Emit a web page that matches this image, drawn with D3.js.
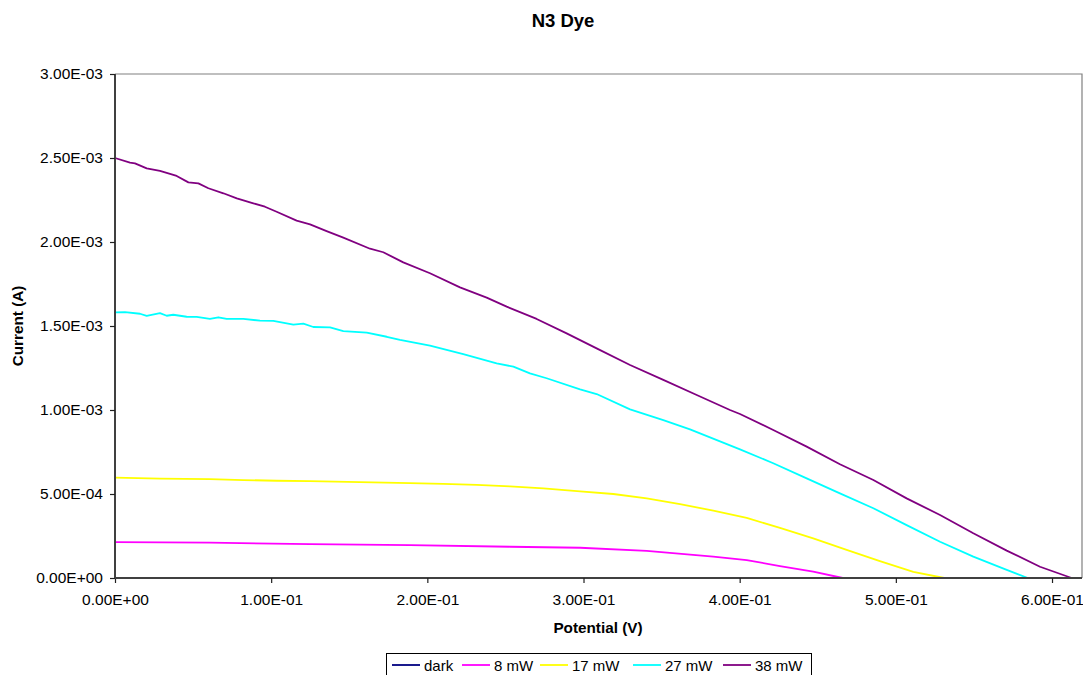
<!DOCTYPE html>
<html>
<head>
<meta charset="utf-8">
<script src="https://cdn.jsdelivr.net/npm/d3@7"></script>
<style>
  html, body { margin: 0; padding: 0; background: #fff; }
  svg { display: block; font-family: "Liberation Sans", Arial, sans-serif; }
</style>
</head>
<body>
<svg id="chart" width="1083" height="675"></svg>
<script>
// I–V curves of an N3 dye cell under different illumination powers.
const seriesNames = ["dark", "8 mW", "17 mW", "27 mW", "38 mW"];
const seriesColors = ["#000080", "#FF00FF", "#FFFF00", "#00FFFF", "#800080"];

// [potential (V), current (A)]
const dark = [[0, 0], [0.05, 0], [0.104, 0]];

const mw8 = [
  [0, 2.14e-4], [0.0608, 2.10e-4], [0.1249, 2.02e-4], [0.1889, 1.96e-4],
  [0.2529, 1.86e-4], [0.2978, 1.80e-4], [0.3405, 1.61e-4], [0.3831, 1.27e-4],
  [0.4045, 1.07e-4], [0.4258, 0.71e-4], [0.4471, 0.38e-4], [0.466, 0]
];

const mw17 = [
  [0, 5.97e-4], [0.0288, 5.92e-4], [0.0608, 5.89e-4], [0.0822, 5.83e-4],
  [0.1035, 5.79e-4], [0.1249, 5.77e-4], [0.1569, 5.71e-4], [0.1889, 5.65e-4],
  [0.2102, 5.60e-4], [0.2316, 5.54e-4], [0.2529, 5.45e-4], [0.2743, 5.34e-4],
  [0.2978, 5.16e-4], [0.3191, 5.00e-4], [0.3405, 4.74e-4], [0.3618, 4.40e-4],
  [0.3831, 4.01e-4], [0.4045, 3.58e-4], [0.4258, 2.98e-4], [0.4471, 2.36e-4],
  [0.4685, 1.68e-4], [0.4898, 1.00e-4], [0.5112, 0.36e-4], [0.531, 0]
];

const mw27 = [
  [0, 1.581e-3], [0.0064, 1.583e-3], [0.016, 1.573e-3], [0.0203, 1.560e-3],
  [0.0288, 1.577e-3], [0.0331, 1.561e-3], [0.0373, 1.567e-3], [0.0459, 1.555e-3],
  [0.0523, 1.554e-3], [0.0608, 1.542e-3], [0.0662, 1.552e-3], [0.0715, 1.542e-3],
  [0.0822, 1.542e-3], [0.0928, 1.532e-3], [0.1014, 1.530e-3], [0.1142, 1.508e-3],
  [0.1206, 1.514e-3], [0.127, 1.494e-3], [0.1377, 1.492e-3], [0.1462, 1.470e-3],
  [0.1612, 1.460e-3], [0.174, 1.436e-3], [0.1825, 1.417e-3], [0.2017, 1.383e-3],
  [0.223, 1.333e-3], [0.2444, 1.278e-3], [0.2551, 1.258e-3], [0.2657, 1.218e-3],
  [0.2764, 1.189e-3], [0.2978, 1.123e-3], [0.3084, 1.095e-3], [0.3298, 1.004e-3],
  [0.3511, 0.940e-3], [0.3682, 0.885e-3], [0.4002, 0.766e-3], [0.4215, 0.683e-3],
  [0.4429, 0.593e-3], [0.4642, 0.504e-3], [0.4856, 0.415e-3], [0.5069, 0.315e-3],
  [0.5283, 0.216e-3], [0.5496, 0.127e-3], [0.571, 0.048e-3], [0.5845, 0]
];

const mw38 = [
  [0, 2.500e-3], [0.0096, 2.472e-3], [0.0128, 2.468e-3], [0.0203, 2.438e-3],
  [0.0288, 2.423e-3], [0.0395, 2.393e-3], [0.047, 2.355e-3], [0.0534, 2.349e-3],
  [0.0598, 2.320e-3], [0.0694, 2.290e-3], [0.078, 2.260e-3], [0.0886, 2.230e-3],
  [0.096, 2.210e-3], [0.1035, 2.180e-3], [0.1163, 2.127e-3], [0.1249, 2.105e-3],
  [0.1355, 2.065e-3], [0.1462, 2.026e-3], [0.1633, 1.960e-3], [0.1718, 1.939e-3],
  [0.1846, 1.879e-3], [0.2017, 1.814e-3], [0.2209, 1.730e-3], [0.238, 1.669e-3],
  [0.2508, 1.615e-3], [0.27, 1.542e-3], [0.2892, 1.456e-3], [0.3084, 1.367e-3],
  [0.3298, 1.268e-3], [0.3511, 1.179e-3], [0.3725, 1.089e-3], [0.3938, 1.000e-3],
  [0.4002, 0.976e-3], [0.4215, 0.881e-3], [0.4429, 0.782e-3], [0.4642, 0.677e-3],
  [0.4856, 0.583e-3], [0.5069, 0.474e-3], [0.5283, 0.375e-3], [0.5496, 0.266e-3],
  [0.571, 0.163e-3], [0.5923, 0.067e-3], [0.6126, 0]
];

const seriesData = [dark, mw8, mw17, mw27, mw38];

const xTicks = [0, 0.1, 0.2, 0.3, 0.4, 0.5, 0.6];
const yTicks = [0, 0.0005, 0.001, 0.0015, 0.002, 0.0025, 0.003];
const xMax = 0.6192;
const yMax = 0.003;

// Excel-style scientific notation: 1.00E-01
function sci(v) {
  const [m, e] = (+v).toExponential(2).split("e");
  const sign = e[0];
  const digits = e.slice(1).padStart(2, "0");
  return m + "E" + sign + digits;
}

const svg = d3.select("#chart");
const plot = { left: 115, right: 1082, top: 74, bottom: 578 };

const x = d3.scaleLinear().domain([0, xMax]).range([plot.left, plot.right]);
const y = d3.scaleLinear().domain([0, yMax]).range([plot.bottom, plot.top]);

// Plot-area frame (top and right edges)
svg.append("path")
  .attr("d", `M${plot.left},${plot.top}H${plot.right}V${plot.bottom}`)
  .attr("fill", "none")
  .attr("stroke", "#808080")
  .attr("stroke-width", 1.2);

// Series
const line = d3.line().x(d => x(d[0])).y(d => y(d[1]));
seriesData.forEach((data, i) => {
  svg.append("path")
    .datum(data)
    .attr("d", line)
    .attr("fill", "none")
    .attr("stroke", seriesColors[i])
    .attr("stroke-width", 1.8)
    .attr("stroke-linejoin", "round");
});

// Axes
const xAxis = d3.axisBottom(x).tickValues(xTicks).tickFormat(sci).tickSize(5).tickPadding(11);
const yAxis = d3.axisLeft(y).tickValues(yTicks).tickFormat(sci).tickSize(5).tickPadding(7);

const gx = svg.append("g").attr("transform", `translate(0,${plot.bottom})`).call(xAxis);
const gy = svg.append("g").attr("transform", `translate(${plot.left},0)`).call(yAxis);

[gx, gy].forEach(g => {
  g.attr("font-family", null).attr("font-size", null);
  g.select(".domain").attr("stroke", "#404040").attr("stroke-width", 2);
  g.selectAll(".tick line").attr("stroke", "#202020").attr("stroke-width", 1.2);
  g.selectAll(".tick text")
    .attr("fill", "#000")
    .style("font-family", "'Liberation Sans', Arial, sans-serif")
    .style("font-size", "15.5px");
});
// keep the axis lines inside the plot area
gx.select(".domain").attr("d", `M${plot.left},0H${plot.right}`);
gy.select(".domain").attr("d", `M0,${plot.bottom + 1}V${plot.top}`);

// Title and axis titles
svg.append("text")
  .attr("x", 563).attr("y", 27)
  .attr("text-anchor", "middle")
  .style("font-weight", "bold").style("font-size", "18.5px")
  .text("N3 Dye");

svg.append("text")
  .attr("x", 598).attr("y", 633)
  .attr("text-anchor", "middle")
  .style("font-weight", "bold").style("font-size", "15.3px")
  .text("Potential (V)");

svg.append("text")
  .attr("transform", `translate(23,${(plot.top + plot.bottom) / 2}) rotate(-90)`)
  .attr("text-anchor", "middle")
  .style("font-weight", "bold").style("font-size", "15.3px")
  .text("Current (A)");

// Legend
const legend = svg.append("g");
legend.append("rect")
  .attr("x", 386.5).attr("y", 653.5)
  .attr("width", 425).attr("height", 40)
  .attr("fill", "#fff")
  .attr("stroke", "#000").attr("stroke-width", 1);

const legendX = [392, 462, 540, 633, 723];
seriesNames.forEach((name, i) => {
  legend.append("line")
    .attr("x1", legendX[i]).attr("x2", legendX[i] + 28)
    .attr("y1", 665).attr("y2", 665)
    .attr("stroke", seriesColors[i]).attr("stroke-width", 1.8);
  legend.append("text")
    .attr("x", legendX[i] + 32).attr("y", 670.5)
    .style("font-size", "15px")
    .text(name);
});
</script>
</body>
</html>
